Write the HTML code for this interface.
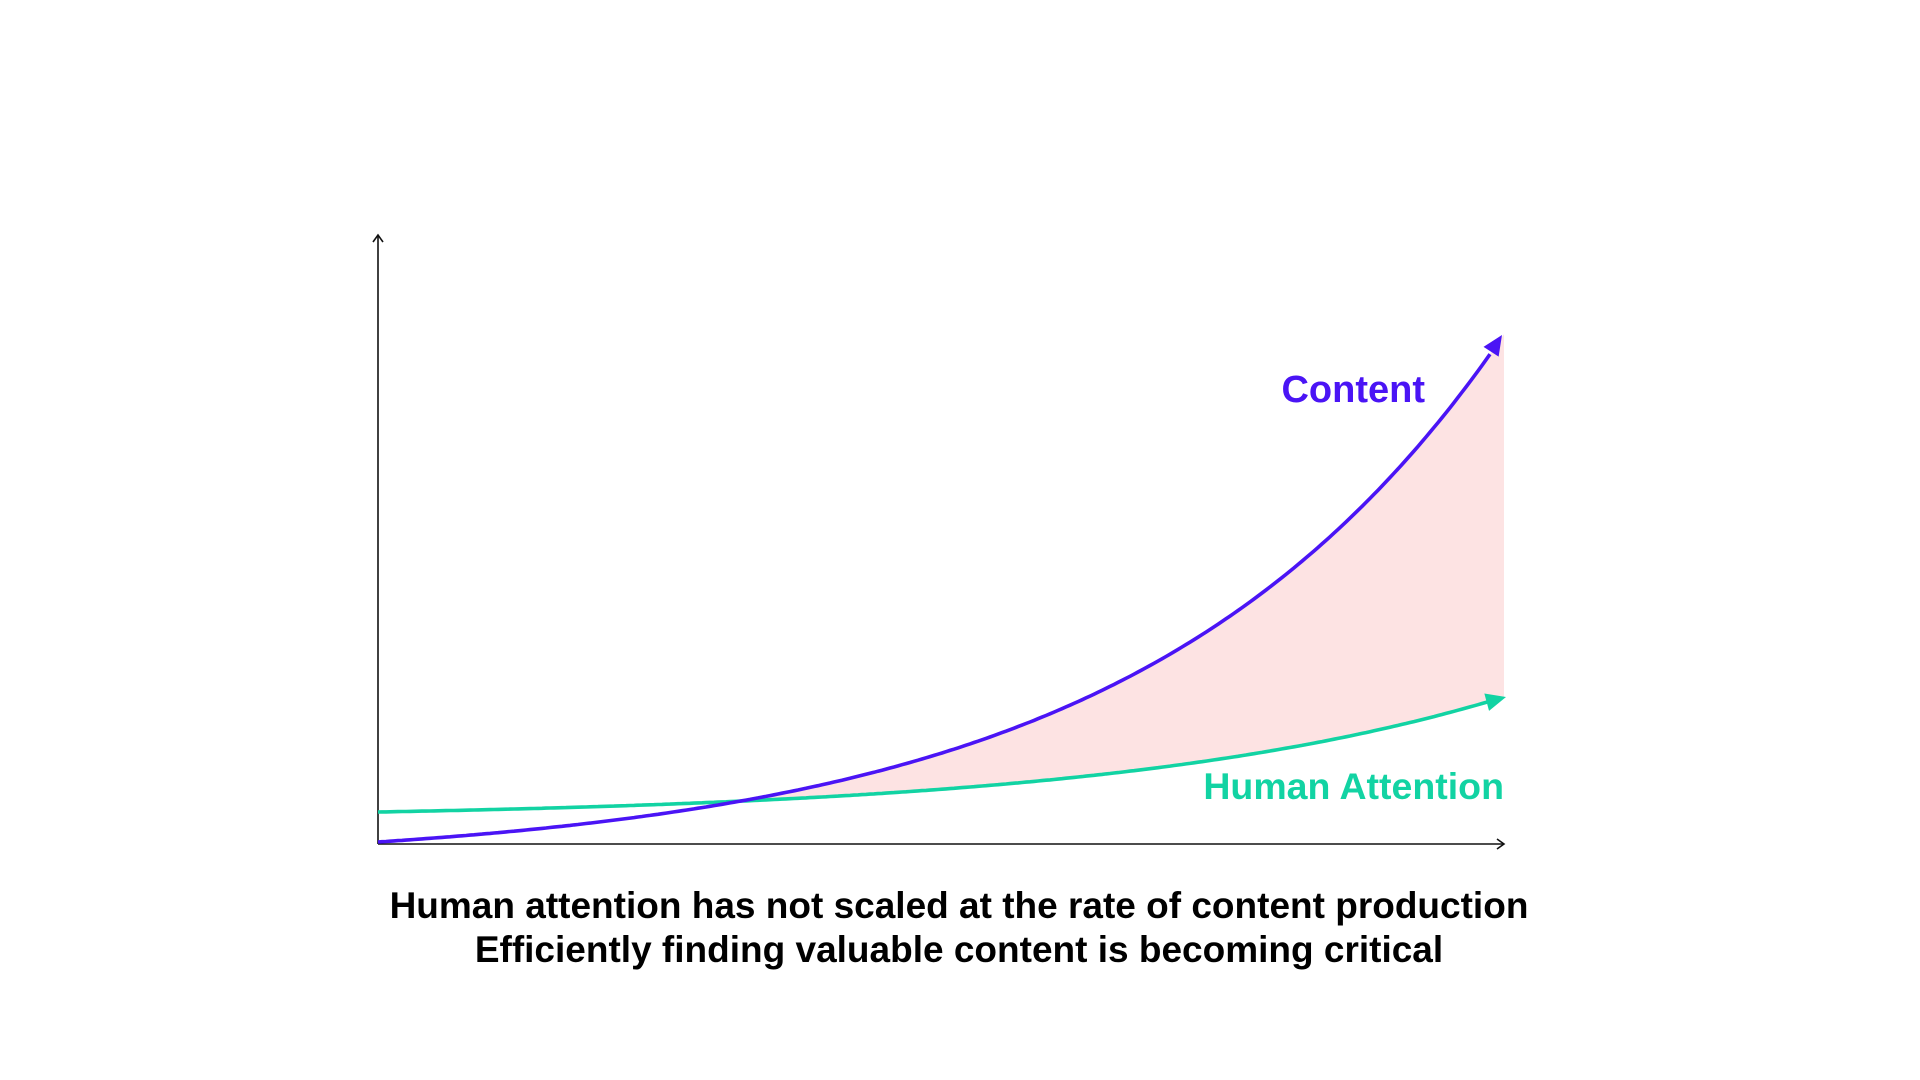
<!DOCTYPE html>
<html><head><meta charset="utf-8"><style>
html,body{margin:0;padding:0;background:#fff;width:1920px;height:1080px;overflow:hidden}
svg{position:absolute;left:0;top:0}
</style></head><body>
<svg id="s" width="1920" height="1080" xmlns="http://www.w3.org/2000/svg" font-family="'Liberation Sans', sans-serif" font-weight="bold">
<path id="fill" fill="#fde3e3" d=""/>
<line x1="378" y1="844" x2="378" y2="235" stroke="#111" stroke-width="1.6"/>
<polyline points="373,242 378,235 383,242" fill="none" stroke="#111" stroke-width="1.6"/>
<line x1="378" y1="844" x2="1504" y2="844" stroke="#111" stroke-width="1.6"/>
<polyline points="1497,839 1504,844 1497,849" fill="none" stroke="#111" stroke-width="1.6"/>
<path id="att" fill="none" stroke="#12d3a3" stroke-width="3.6" d=""/>
<path id="con" fill="none" stroke="#4a14f5" stroke-width="3.6" d=""/>
<polygon id="ah1" fill="#4a14f5" points=""/>
<polygon id="ah2" fill="#12d3a3" points=""/>
<text x="1425" y="402" fill="#4a14f5" font-size="38" text-anchor="end">Content</text>
<text x="1504" y="799" fill="#12d3a3" font-size="37.5" text-anchor="end">Human Attention</text>
<text x="959" y="918" fill="#000" font-size="37" text-anchor="middle">Human attention has not scaled at the rate of content production</text>
<text x="959" y="962" fill="#000" font-size="37" text-anchor="middle">Efficiently finding valuable content is becoming critical</text>
</svg>
<script>
function C(x){var t=(x-378)/1124;return 842-505*(Math.exp(3.1*t)-1)/(Math.exp(3.1)-1);}
function A(x){var t=(x-378)/1126;return 812-115*(Math.exp(2.8*t)-1)/(Math.exp(2.8)-1);}
var c=[],a=[],f=[],f2=[];
for(var x=378;x<=1490;x+=4){c.push(x+','+C(x).toFixed(1));}
for(var x=378;x<=1494;x+=4){a.push(x+','+A(x).toFixed(1));}
document.getElementById('con').setAttribute('d','M'+c.join(' L'));
document.getElementById('att').setAttribute('d','M'+a.join(' L'));
for(var x=720;x<=1504;x+=4){f.push(x+','+Math.min(C(x),A(x)).toFixed(1));}
for(var x=1504;x>=720;x-=4){f2.push(x+','+A(x).toFixed(1));}
document.getElementById('fill').setAttribute('d','M'+f.join(' L')+' L1504,337 L'+f2.join(' L')+'Z');
function head(id,x0,y0,x1,y1,L,W){var dx=x1-x0,dy=y1-y0,d=Math.hypot(dx,dy);dx/=d;dy/=d;
var bx=x1-dx*L,by=y1-dy*L;document.getElementById(id).setAttribute('points',
x1+','+y1+' '+(bx-dy*W)+','+(by+dx*W)+' '+(bx+dy*W)+','+(by-dx*W));}
head('ah1',1484,C(1484),1502,335,20,9);
head('ah2',1484,A(1484),1506,697,20,9);
</script>
</body></html>
